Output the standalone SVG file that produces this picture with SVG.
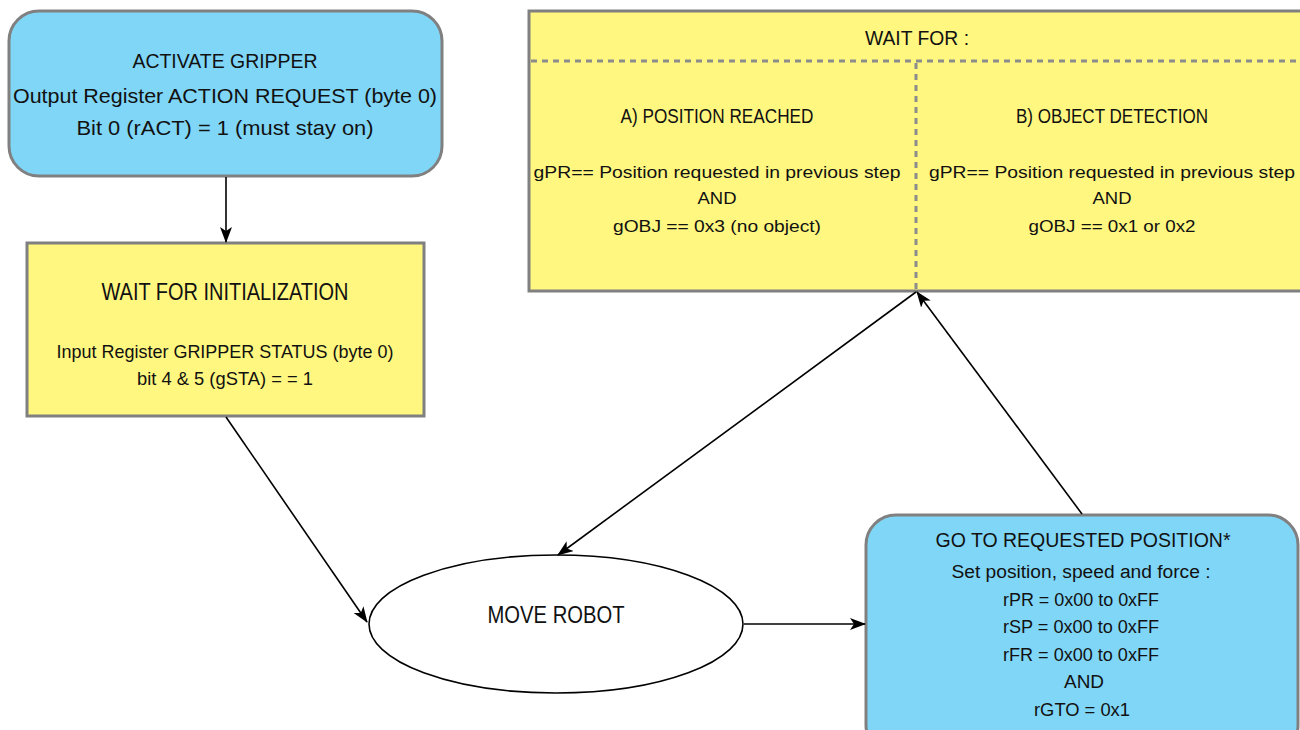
<svg xmlns="http://www.w3.org/2000/svg" width="1300" height="730" viewBox="0 0 1300 730">
<style>
text{font-family:"Liberation Sans",Arial,sans-serif;fill:#111;text-anchor:middle}
.blue{fill:#80d6f7;stroke:#808080;stroke-width:3}
.yel{fill:#fff780;stroke:#808080;stroke-width:3}
.dash{stroke:#8c8c8c;stroke-width:3;stroke-dasharray:6 5;fill:none}
.con{stroke:#000;stroke-width:1.6;fill:none;marker-end:url(#ah)}
.t23{font-size:23px}.t21{font-size:21px}.t20{font-size:20px}.t19{font-size:19px}.t18{font-size:18px}.t17{font-size:17px}
</style>
<defs>
<marker id="ah" viewBox="0 0 16 12" refX="15" refY="6" markerWidth="16" markerHeight="12" markerUnits="userSpaceOnUse" orient="auto">
<path d="M0,0 L16,6 L0,12 L4,6 z" fill="#000"/>
</marker>
</defs>
<rect width="1300" height="730" fill="#fff"/>
<g id="activate">
<rect class="blue" x="9" y="11" width="433" height="165" rx="30"/>
<text class="t21" x="225" y="68" textLength="185" lengthAdjust="spacingAndGlyphs">ACTIVATE GRIPPER</text>
<text class="t21" x="225" y="103" textLength="424" lengthAdjust="spacingAndGlyphs">Output Register ACTION REQUEST (byte 0)</text>
<text class="t21" x="225" y="135" textLength="297" lengthAdjust="spacingAndGlyphs">Bit 0 (rACT) = 1 (must stay on)</text>
</g>
<g id="waitinit">
<rect class="yel" x="27" y="243" width="397" height="173"/>
<text class="t23" x="225" y="300" textLength="247" lengthAdjust="spacingAndGlyphs">WAIT FOR INITIALIZATION</text>
<text class="t19" x="225" y="358" textLength="337" lengthAdjust="spacingAndGlyphs">Input Register GRIPPER STATUS (byte 0)</text>
<text class="t19" x="225" y="385" textLength="176" lengthAdjust="spacingAndGlyphs">bit 4 &amp; 5 (gSTA) = = 1</text>
</g>
<g id="waitfor">
<rect class="yel" x="529" y="11" width="790" height="280"/>
<line class="dash" x1="531" y1="61" x2="1300" y2="61"/>
<line class="dash" x1="916" y1="63" x2="916" y2="290"/>
<text class="t20" x="917" y="45" textLength="104" lengthAdjust="spacingAndGlyphs">WAIT FOR :</text>
<text class="t20" x="717" y="123" textLength="193" lengthAdjust="spacingAndGlyphs">A) POSITION REACHED</text>
<text class="t17" x="717" y="178" textLength="367" lengthAdjust="spacingAndGlyphs">gPR== Position requested in previous step</text>
<text class="t17" x="717" y="204" textLength="39" lengthAdjust="spacingAndGlyphs">AND</text>
<text class="t17" x="717" y="232" textLength="208" lengthAdjust="spacingAndGlyphs">gOBJ == 0x3 (no object)</text>
<text class="t20" x="1112" y="123" textLength="192" lengthAdjust="spacingAndGlyphs">B) OBJECT DETECTION</text>
<text class="t17" x="1112" y="178" textLength="366" lengthAdjust="spacingAndGlyphs">gPR== Position requested in previous step</text>
<text class="t17" x="1112" y="204" textLength="39" lengthAdjust="spacingAndGlyphs">AND</text>
<text class="t17" x="1112" y="232" textLength="167" lengthAdjust="spacingAndGlyphs">gOBJ == 0x1 or 0x2</text>
</g>
<g id="moverobot">
<ellipse cx="556" cy="624" rx="187" ry="69" fill="#fff" stroke="#000" stroke-width="1.6"/>
<text class="t23" x="556" y="623" textLength="137" lengthAdjust="spacingAndGlyphs">MOVE ROBOT</text>
</g>
<g id="goto">
<rect class="blue" x="866" y="515" width="432" height="240" rx="30"/>
<text class="t21" x="1083" y="547" textLength="295" lengthAdjust="spacingAndGlyphs">GO TO REQUESTED POSITION*</text>
<text class="t18" x="1081" y="578" textLength="259" lengthAdjust="spacingAndGlyphs">Set position, speed and force :</text>
<text class="t18" x="1081" y="606" textLength="156" lengthAdjust="spacingAndGlyphs">rPR = 0x00 to 0xFF</text>
<text class="t18" x="1081" y="633" textLength="156" lengthAdjust="spacingAndGlyphs">rSP = 0x00 to 0xFF</text>
<text class="t18" x="1081" y="661" textLength="156" lengthAdjust="spacingAndGlyphs">rFR = 0x00 to 0xFF</text>
<text class="t18" x="1084" y="688" textLength="40" lengthAdjust="spacingAndGlyphs">AND</text>
<text class="t18" x="1082" y="716" textLength="96" lengthAdjust="spacingAndGlyphs">rGTO = 0x1</text>
</g>
<g id="connectors">
<line class="con" x1="226" y1="177" x2="226" y2="242"/>
<line class="con" x1="226" y1="417" x2="367" y2="622"/>
<line class="con" x1="744" y1="624" x2="865" y2="624"/>
<line class="con" x1="1082" y1="514" x2="917" y2="292"/>
<line class="con" x1="916" y1="292" x2="558" y2="555"/>
</g>
</svg>
